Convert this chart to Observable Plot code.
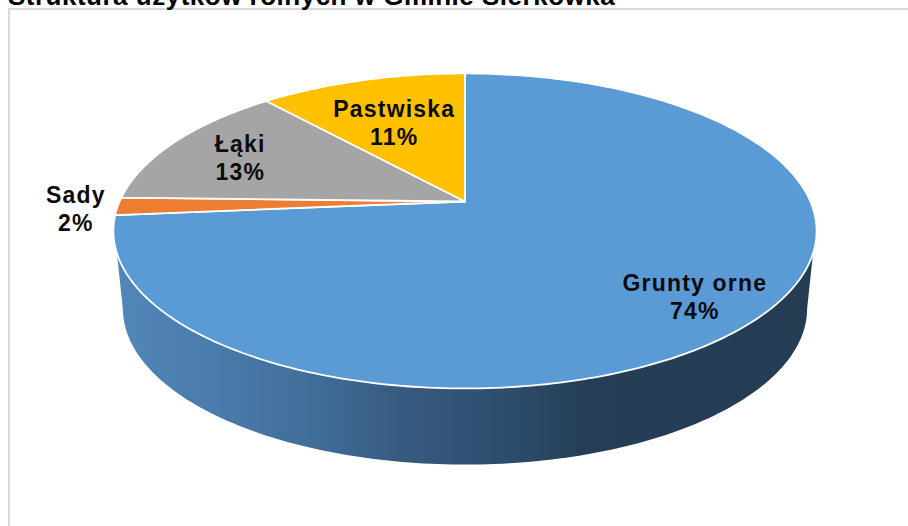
<!DOCTYPE html>
<html lang="pl">
<head>
<meta charset="utf-8">
<title>Struktura użytków rolnych w Gminie Sierkówka</title>
<script src="https://cdn.jsdelivr.net/npm/d3@7"></script>
<script src="https://cdn.jsdelivr.net/npm/@observablehq/plot@0.6"></script>
<style>
  html, body { margin: 0; padding: 0; background: #fff; overflow: hidden; }
  #page { position: relative; width: 908px; height: 526px; overflow: hidden; }
  #title { position: absolute; left: 8px; top: -20px; white-space: nowrap;
           font: bold 26px/32px "Liberation Sans", Arial, sans-serif; letter-spacing: .5px; color: #000; }
  #frame { position: absolute; left: 7.5px; top: 8px; right: -4px; bottom: -4px;
           border: 2.5px solid #d9d9d9; box-sizing: border-box; pointer-events: none; }
  #chart svg text { letter-spacing: 1.2px; }
</style>
</head>
<body>
<div id="page">
  <div id="chart"></div>
  <div id="frame"></div>
  <div id="title">Struktura użytków rolnych w Gminie Sierkówka</div>
</div>
<script>
// Data, clockwise from twelve o'clock
const names   = ["Grunty orne", "Sady", "Łąki", "Pastwiska"];
const shares  = [73.6, 1.8, 13.2, 11.4];
const colours = ["#5b9bd5", "#ed7d31", "#a5a5a5", "#ffc000"];

// Layout of the tilted disc (perspective projection of the unit circle)
const width = 908, height = 526;
const apexX = 464.5, apexY = 201;
const spreadX = 345.4, spreadY = 152, tilt = -0.187;
const wallDepth = 78, wallNarrow = 0.973, wallSquash = 0.99;
const toRad = Math.PI / 180;

function project(deg, r = 1) {
  const u = r * Math.sin(deg * toRad), v = -r * Math.cos(deg * toRad);
  const d = 1 + tilt * v;
  return {x: apexX + spreadX * u / d, y: apexY + spreadY * v / d};
}
function floor(deg) {
  const p = project(deg);
  return {x: apexX + (p.x - apexX) * wallNarrow, y: apexY + wallDepth + (p.y - apexY) * wallSquash};
}

// Slices derived from the shares
let running = 0;
const slices = names.map((name, i) => {
  const a0 = running / 100 * 360;
  running += shares[i];
  const a1 = running / 100 * 360;
  return {name, share: shares[i], a0, a1};
});
const sliceRows = slices.flatMap(s => {
  const apex = {name: s.name, x: apexX, y: apexY};
  const n = Math.max(2, Math.ceil(s.a1 - s.a0));
  const rim = d3.range(n + 1).map(k => ({name: s.name, ...project(s.a0 + (s.a1 - s.a0) * k / n)}));
  return [apex, ...rim, apex];
});

// Side wall: down from the rim, along the floor rim, back up
const wallRows = [
  project(108.7),
  ...d3.range(100.8, 259.3, 1).map(floor),
  project(251.3)
];

// Label placement: radius along the mid-angle, then a small nudge
const labelRadius = [0.81, 1.12, 0.70, 0.60];
const labelNudgeX = [0, 0, -17.5, -5];
const labelNudgeY = [2, 1, -2, -2];
const labelRows = slices.map((s, i) => {
  const p = project((s.a0 + s.a1) / 2, labelRadius[i]);
  return {
    x: p.x + labelNudgeX[i],
    y: p.y + labelNudgeY[i],
    text: `${s.name}\n${Math.round(s.share)}%`
  };
});

// Gradient of the wall
const wallStops = [
  [113, "#5487b9"], [200, "#4a7dae"], [300, "#426f9b"], [400, "#375b80"],
  [500, "#2e4e6e"], [580, "#263f57"], [816, "#243d53"]
];
function wallGradient() {
  const defs = d3.create("svg:defs");
  const g = defs.append("linearGradient")
    .attr("id", "wall").attr("gradientUnits", "userSpaceOnUse")
    .attr("x1", 113).attr("x2", 816).attr("y1", 0).attr("y2", 0);
  for (const [x, c] of wallStops) {
    g.append("stop").attr("offset", (x - 113) / (816 - 113)).attr("stop-color", c);
  }
  return defs.node();
}

const chart = Plot.plot({
  width, height,
  margin: 0,
  x: {domain: [0, width], range: [0, width], axis: null},
  y: {domain: [0, height], range: [0, height], axis: null},
  color: {domain: names, range: colours},
  style: {background: "transparent"},
  marks: [
    wallGradient,
    Plot.line(wallRows, {x: "x", y: "y", fill: "url(#wall)", stroke: "none", curve: "linear"}),
    Plot.line(sliceRows, {
      x: "x", y: "y", z: "name", fill: "name",
      stroke: "#fff", strokeWidth: 1.8, curve: "linear", strokeLinejoin: "round"
    }),
    Plot.text(labelRows, {
      x: "x", y: "y", text: "text",
      fontFamily: "'Liberation Sans', Arial, sans-serif",
      fontWeight: "bold", fontSize: 23, lineHeight: 1.22, fill: "#0b0b0b",
      textAnchor: "middle"
    })
  ]
});
document.getElementById("chart").appendChild(chart);
</script>
</body>
</html>
